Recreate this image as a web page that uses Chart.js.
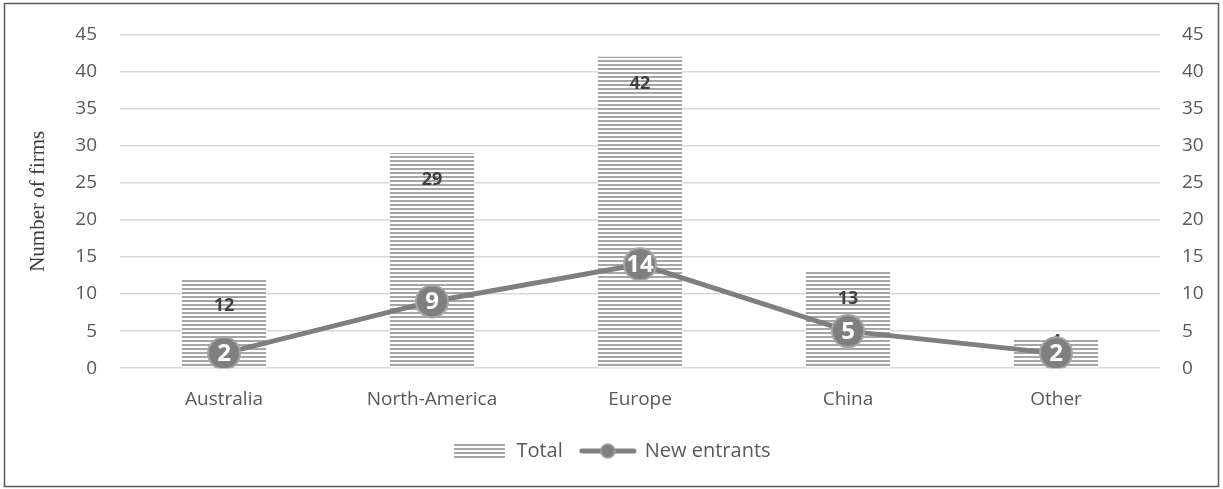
<!DOCTYPE html>
<html>
<head>
<meta charset="utf-8">
<script src="https://cdn.jsdelivr.net/npm/chart.js@4.4.1/dist/chart.umd.min.js"></script>
<style>
  html, body { margin: 0; background: #fff; }
  #wrap { position: relative; width: 1223px; height: 489px; }
</style>
</head>
<body>
<div id="wrap"><canvas id="firmsChart" width="1223" height="489"></canvas></div>
<script>
/* ── DATA ── */
var regions     = ['Australia', 'North-America', 'Europe', 'China', 'Other'];
var totalFirms  = [12, 29, 42, 13, 4];
var newEntrants = [2, 9, 14, 5, 2];
var yMax = 45, yStep = 5;

var TICK_FONT   = { family: 'Open Sans', size: 19 };
var LEGEND_FONT = { family: 'Open Sans', size: 20 };
var GRAY_LINE = '#7f7f7f';

/* ── STRIPE PATTERN (horizontal hatch like the original) ── */
function makeStripes(w, h) {
  var c = document.createElement('canvas');
  c.width = w; c.height = h;
  var g = c.getContext('2d');
  g.fillStyle = '#ffffff';
  g.fillRect(0, 0, w, h);
  g.fillStyle = '#a6a6a6';
  for (var y = 0; y < h; y += 4) g.fillRect(0, y, w, 2);
  return c;
}
var stripeTile = makeStripes(4, 4);
var stripePattern = document.createElement('canvas').getContext('2d').createPattern(stripeTile, 'repeat');

/* ── LEGEND ICONS ── */
var legendBar = makeStripes(51, 14);
var legendLine = (function () {
  var c = document.createElement('canvas');
  c.width = 58; c.height = 18;
  var g = c.getContext('2d');
  g.strokeStyle = GRAY_LINE; g.lineWidth = 5; g.lineCap = 'round';
  g.beginPath(); g.moveTo(3, 9); g.lineTo(55, 9); g.stroke();
  g.beginPath(); g.arc(29, 9, 7, 0, Math.PI * 2);
  g.fillStyle = GRAY_LINE; g.fill();
  g.lineWidth = 1.5; g.strokeStyle = '#a5a5a5'; g.stroke();
  return c;
})();

/* ── PLUGINS ── */
var frame = {
  id: 'frame',
  beforeDraw: function (chart) {
    var ctx = chart.ctx;
    ctx.save();
    ctx.fillStyle = '#fff';
    ctx.fillRect(0, 0, chart.width, chart.height);
    ctx.strokeStyle = '#595959';
    ctx.lineWidth = 1.5;
    ctx.strokeRect(4.5, 3.5, 1214, 483);
    ctx.restore();
  }
};

var valueLabels = {
  id: 'valueLabels',
  afterDatasetDraw: function (chart, args) {
    var ctx = chart.ctx;
    var meta = args.meta;
    var ds = chart.data.datasets[args.index];
    ctx.save();
    ctx.textAlign = 'center';
    ctx.textBaseline = 'middle';
    if (meta.type === 'bar') {
      ctx.font = 'bold 18px "Open Sans"';
      ctx.fillStyle = '#404040';
      meta.data.forEach(function (bar, i) {
        var h = bar.base - bar.y;
        var y = h > 50 ? bar.y + 27 : bar.y + 3;
        ctx.fillText(ds.data[i], bar.x, y);
      });
    } else {
      ctx.font = 'bold 24px "Open Sans"';
      ctx.fillStyle = '#ffffff';
      meta.data.forEach(function (pt, i) {
        ctx.fillText(ds.data[i], pt.x, pt.y + 1);
      });
    }
    ctx.restore();
  }
};

/* ── CHART ── */
var yTicks = {
  color: '#595959',
  font: TICK_FONT,
  stepSize: yStep
};

new Chart(document.getElementById('firmsChart'), {
  data: {
    labels: regions,
    datasets: [{
      type: 'bar',
      label: 'Total',
      data: totalFirms,
      backgroundColor: stripePattern,
      borderWidth: 0,
      barPercentage: 0.81,
      categoryPercentage: 0.5,
      order: 2,
      yAxisID: 'y'
    }, {
      type: 'line',
      label: 'New entrants',
      data: newEntrants,
      borderColor: GRAY_LINE,
      borderWidth: 5,
      backgroundColor: GRAY_LINE,
      pointRadius: 16,
      pointBorderWidth: 2,
      pointBorderColor: '#a5a5a5',
      pointBackgroundColor: GRAY_LINE,
      tension: 0,
      order: 1,
      yAxisID: 'y'
    }]
  },
  options: {
    responsive: false,
    animation: false,
    layout: { padding: { left: 0, right: 0, top: 22, bottom: 18 } },
    plugins: {
      legend: {
        position: 'bottom',
        labels: {
          usePointStyle: true,
          pointStyleWidth: 54,
          color: '#595959',
          font: LEGEND_FONT,
          padding: 18,
          sort: function (a, b) { return a.datasetIndex - b.datasetIndex; },
          generateLabels: function (chart) {
            var items = Chart.defaults.plugins.legend.labels.generateLabels(chart);
            items.forEach(function (it) {
              it.pointStyle = it.datasetIndex === 0 ? legendBar : legendLine;
            });
            return items;
          }
        }
      },
      tooltip: { enabled: false }
    },
    scales: {
      x: {
        offset: true,
        grid: { display: false },
        border: { display: false },
        ticks: { color: '#595959', font: TICK_FONT, padding: 12 }
      },
      y: {
        position: 'left',
        min: 0, max: yMax,
        ticks: Object.assign({ padding: 23 }, yTicks),
        grid: { color: '#d9d9d9', lineWidth: 1.5, drawTicks: false },
        border: { display: false },
        title: {
          display: true,
          text: 'Number of firms',
          color: '#404040',
          font: { family: 'Liberation Serif', size: 21 },
          padding: { top: 26, bottom: 0 }
        },
        afterFit: function (s) { s.width = 120; }
      },
      y2: {
        position: 'right',
        min: 0, max: yMax,
        ticks: Object.assign({ padding: 22 }, yTicks),
        grid: { display: false, drawTicks: false },
        border: { display: false },
        afterFit: function (s) { s.width = 63; }
      }
    }
  },
  plugins: [frame, valueLabels]
});
</script>
</body>
</html>
